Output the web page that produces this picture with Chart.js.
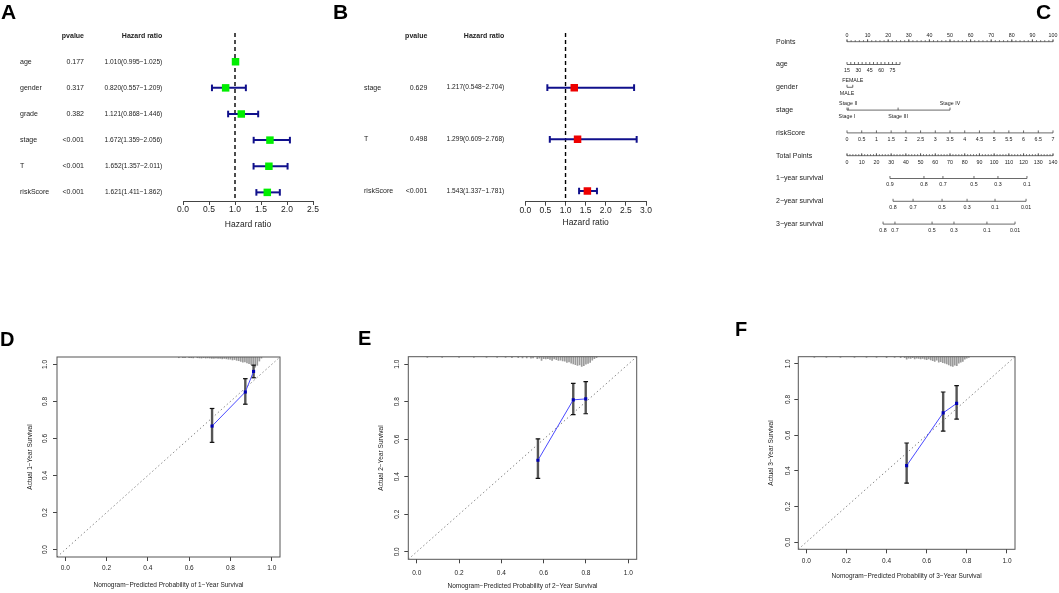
<!DOCTYPE html>
<html>
<head>
<meta charset="utf-8">
<title>Prognostic model panels</title>
<script src="https://cdn.jsdelivr.net/npm/chart.js@4.4.1/dist/chart.umd.min.js"></script>
<style>
  body { margin: 0; background: #fff; width: 1059px; height: 593px; overflow: hidden; position: relative;
         font-family: "Liberation Sans", Arial, Helvetica, sans-serif; }
  .panel { position: absolute; }
  .tag { position: absolute; font-weight: bold; font-size: 21px; line-height: 1; color: #000; z-index: 2; }
</style>
</head>
<body>
<div class="tag" style="left:1px;top:1px">A</div>
<div class="tag" style="left:333px;top:1px">B</div>
<div class="tag" style="left:1036px;top:1px">C</div>
<div class="tag" style="left:0px;top:329px;font-size:20px">D</div>
<div class="tag" style="left:358px;top:328px;font-size:20px">E</div>
<div class="tag" style="left:735px;top:319px;font-size:20px">F</div>

<div class="panel" style="left:0;top:0"><canvas id="forestA" width="335" height="240"></canvas></div>
<div class="panel" style="left:335px;top:0"><canvas id="forestB" width="330" height="240"></canvas></div>
<div class="panel" style="left:760px;top:20px"><canvas id="nomo" width="299" height="220"></canvas></div>
<div class="panel" style="left:0;top:300px"><canvas id="calD" width="340" height="293"></canvas></div>
<div class="panel" style="left:340px;top:300px"><canvas id="calE" width="350" height="293"></canvas></div>
<div class="panel" style="left:700px;top:300px"><canvas id="calF" width="359" height="293"></canvas></div>

<script>
// ================= DATA =================
// --- A: univariate Cox ---
const varsA  = ['age', 'gender', 'grade', 'stage', 'T', 'riskScore'];
const pvalA  = ['0.177', '0.317', '0.382', '<0.001', '<0.001', '<0.001'];
const hrA    = [1.010, 0.820, 1.121, 1.672, 1.652, 1.621];
const lowA   = [0.995, 0.557, 0.868, 1.359, 1.357, 1.411];
const highA  = [1.025, 1.209, 1.446, 2.056, 2.011, 1.862];
const ticksA = [0, 0.5, 1, 1.5, 2, 2.5];

// --- B: multivariate Cox ---
const varsB  = ['stage', 'T', 'riskScore'];
const pvalB  = ['0.629', '0.498', '<0.001'];
const hrB    = [1.217, 1.299, 1.543];
const lowB   = [0.548, 0.609, 1.337];
const highB  = [2.704, 2.768, 1.781];
const ticksB = [0, 0.5, 1, 1.5, 2, 2.5, 3];

// --- C: nomogram ---
const pointsTicks  = [0, 10, 20, 30, 40, 50, 60, 70, 80, 90, 100];
const ageTicks     = [15, 20, 25, 30, 35, 40, 45, 50, 55, 60, 65, 70, 75, 80, 85];
const ageLabels    = [15, 30, 45, 60, 75];
const AGE_AT_100   = 287;          // age that would score 100 points
const genderLevels = ['FEMALE', 'MALE'];
const genderPts    = [2.8, 0];
const genderSides  = [-1, 1];
const stageLevels  = ['Stage I', 'Stage II', 'Stage III', 'Stage IV'];
const stagePts     = [0, 0.6, 24.8, 50];
const stageSides   = [1, -1, 1, -1];
const riskTicks    = [0, 0.5, 1, 1.5, 2, 2.5, 3, 3.5, 4, 4.5, 5, 5.5, 6, 6.5, 7];
const totalTicks   = [0, 10, 20, 30, 40, 50, 60, 70, 80, 90, 100, 110, 120, 130, 140];
const surv1Labels  = ['0.9', '0.8', '0.7', '0.5', '0.3', '0.1'];
const surv1Tot     = [29.2, 52.3, 65.2, 86.3, 102.6, 122.3];
const surv2Labels  = ['0.8', '0.7', '0.5', '0.3', '0.1', '0.01'];
const surv2Tot     = [31.3, 44.9, 64.6, 81.6, 100.6, 121.7];
const surv3Labels  = ['0.8', '0.7', '0.5', '0.3', '0.1', '0.01'];
const surv3Tot     = [24.5, 32.6, 57.8, 72.7, 95.1, 114.2];

// --- D/E/F: calibration ---
const calTicks = [0, 0.2, 0.4, 0.6, 0.8, 1.0];
const CAL_LO = -0.04, CAL_HI = 1.04;

const predD = [0.711, 0.872, 0.912];
const obsD  = [0.667, 0.851, 0.962];
const loD   = [0.579, 0.785, 0.928];
const hiD   = [0.762, 0.923, 0.996];
const spikeXD = [0.55, 0.57, 0.58, 0.60, 0.61, 0.62, 0.64, 0.65, 0.66, 0.67, 0.68, 0.69, 0.70,
                 0.71, 0.72, 0.73, 0.74, 0.75, 0.76, 0.77, 0.78, 0.79, 0.80, 0.81, 0.82, 0.83,
                 0.84, 0.85, 0.86, 0.87, 0.88, 0.89, 0.90, 0.91, 0.92, 0.93, 0.94, 0.95];
const spikeHD = [0.004, 0.004, 0.004, 0.004, 0.004, 0.005, 0.004, 0.005, 0.006, 0.004, 0.006, 0.005, 0.006,
                 0.007, 0.008, 0.006, 0.008, 0.007, 0.010, 0.008, 0.010, 0.012, 0.012, 0.016, 0.014, 0.018,
                 0.020, 0.024, 0.028, 0.026, 0.032, 0.036, 0.040, 0.048, 0.055, 0.045, 0.022, 0.006];

const predE = [0.573, 0.740, 0.799];
const obsE  = [0.488, 0.810, 0.815];
const loE   = [0.391, 0.731, 0.736];
const hiE   = [0.602, 0.898, 0.907];
const spikeXE = [0.05, 0.12, 0.20, 0.27, 0.33, 0.38, 0.42, 0.45, 0.48, 0.50, 0.52, 0.54, 0.55, 0.57,
                 0.58, 0.59, 0.60, 0.61, 0.62, 0.63, 0.64, 0.65, 0.66, 0.67, 0.68, 0.69, 0.70, 0.71,
                 0.72, 0.73, 0.74, 0.75, 0.76, 0.77, 0.78, 0.79, 0.80, 0.81, 0.82, 0.83, 0.84, 0.85];
const spikeHE = [0.004, 0.004, 0.004, 0.004, 0.004, 0.004, 0.004, 0.005, 0.005, 0.006, 0.006, 0.008, 0.006, 0.010,
                 0.008, 0.020, 0.010, 0.012, 0.010, 0.014, 0.020, 0.012, 0.016, 0.020, 0.018, 0.022, 0.024, 0.030,
                 0.028, 0.034, 0.038, 0.042, 0.046, 0.044, 0.052, 0.048, 0.040, 0.036, 0.030, 0.018, 0.010, 0.005];

const predF = [0.500, 0.682, 0.749];
const obsF  = [0.429, 0.725, 0.778];
const loF   = [0.331, 0.623, 0.690];
const hiF   = [0.556, 0.842, 0.878];
const spikeXF = [0.04, 0.10, 0.17, 0.24, 0.30, 0.35, 0.40, 0.44, 0.47, 0.49, 0.50, 0.51, 0.52, 0.53,
                 0.54, 0.55, 0.56, 0.57, 0.58, 0.59, 0.60, 0.61, 0.62, 0.63, 0.64, 0.65, 0.66, 0.67,
                 0.68, 0.69, 0.70, 0.71, 0.72, 0.73, 0.74, 0.75, 0.76, 0.77, 0.78, 0.79, 0.80, 0.81];
const spikeHF = [0.004, 0.004, 0.004, 0.004, 0.004, 0.004, 0.005, 0.004, 0.006, 0.006, 0.014, 0.008, 0.010, 0.006,
                 0.012, 0.008, 0.010, 0.012, 0.010, 0.014, 0.016, 0.012, 0.018, 0.022, 0.026, 0.020, 0.030, 0.028,
                 0.034, 0.036, 0.040, 0.046, 0.052, 0.055, 0.048, 0.050, 0.036, 0.030, 0.026, 0.014, 0.008, 0.004];

// ================= DEFAULTS =================
const FONT = '"Liberation Sans", Arial, Helvetica, sans-serif';
Chart.defaults.font.family = FONT;
Chart.defaults.color = '#222';
Chart.defaults.animation = false;
Chart.defaults.events = [];
Chart.defaults.plugins.legend.display = false;
Chart.defaults.plugins.tooltip.enabled = false;

const BAR_BLUE = '#10108c';

function hrText(h, l, u) {
    return `${h.toFixed(3)}(${l.toFixed(3)}\u2212${u.toFixed(3)})`;
}

// ================= FOREST PLOTS =================
function forestTable(t) {
    return {
        id: 'forestTable',
        afterDraw(chart) {
            const ctx = chart.ctx;
            const y = chart.scales.y;
            const hy = y.getPixelForValue(-1);   // header row
            ctx.save();
            ctx.fillStyle = '#222';
            ctx.textBaseline = 'middle';
            ctx.font = `bold 7px ${FONT}`;
            ctx.textAlign = 'right';
            ctx.fillText('pvalue', t.pX, hy);
            ctx.fillText('Hazard ratio', t.hrX, hy);
            t.vars.forEach((v, i) => {
                const py = y.getPixelForValue(i);
                ctx.font = `7px ${FONT}`;
                ctx.textAlign = 'left';
                ctx.fillText(v, t.labelX, py);
                ctx.textAlign = 'right';
                ctx.fillText(t.pval[i], t.pX, py);
                ctx.font = `6.6px ${FONT}`;
                ctx.fillText(hrText(t.hr[i], t.low[i], t.high[i]), t.hrX, py);
            });
            ctx.restore();
        }
    };
}

function forestChart(id, t) {
    const datasets = [{
        type: 'scatter',
        data: t.hr.map((h, i) => ({ x: h, y: i })),
        pointStyle: 'rect', pointRadius: 5.3, pointBorderWidth: 0,
        backgroundColor: t.color, order: 0
    }];
    t.vars.forEach((v, i) => {
        datasets.push({
            type: 'line',
            data: [{ x: t.low[i], y: i }, { x: t.high[i], y: i }],
            borderColor: BAR_BLUE, borderWidth: 2,
            pointStyle: 'line', pointRotation: 90, pointRadius: 3.3,
            pointBorderColor: BAR_BLUE, pointBorderWidth: 2, order: 1
        });
    });
    // reference line at HR = 1
    datasets.push({
        type: 'line',
        data: [{ x: 1, y: t.yMin }, { x: 1, y: t.yMax }],
        borderColor: '#000', borderWidth: 1.4, borderDash: [4, 3], pointRadius: 0, order: 2
    });

    return new Chart(document.getElementById(id), {
        type: 'scatter',
        data: { datasets },
        options: {
            responsive: false,
            layout: { padding: t.padding },
            scales: {
                x: {
                    type: 'linear', min: t.ticks[0], max: t.ticks[t.ticks.length - 1],
                    afterBuildTicks: s => { s.ticks = t.ticks.map(v => ({ value: v })); },
                    afterFit: s => { s.height = t.axisH; },
                    grid: { drawOnChartArea: false, drawTicks: true, tickLength: 4, color: '#444' },
                    border: { display: true, color: '#444', width: 1 },
                    ticks: { padding: 0, autoSkip: false, maxRotation: 0, font: { size: 8.5 }, color: '#222',
                             callback: v => v.toFixed(1) },
                    title: { display: true, text: 'Hazard ratio', font: { size: 8.5 }, color: '#222',
                             padding: { top: 0, bottom: 0 } }
                },
                y: { type: 'linear', reverse: true, min: t.yMin, max: t.yMax, display: false }
            }
        },
        plugins: [forestTable(t)]
    });
}

forestChart('forestA', {
    vars: varsA, pval: pvalA, hr: hrA, low: lowA, high: highA, ticks: ticksA,
    color: '#00ee00', yMin: -1.1, yMax: 5.33, axisH: 29,
    padding: { left: 183, right: 22, top: 33, bottom: 10 },
    labelX: 20, pX: 84, hrX: 162.3
});

forestChart('forestB', {
    vars: varsB, pval: pvalB, hr: hrB, low: lowB, high: highB, ticks: ticksB,
    color: '#ee0000', yMin: -1.058, yMax: 2.207, axisH: 26.1,
    padding: { left: 190.3, right: 19, top: 33, bottom: 12.2 },
    labelX: 29, pX: 92.3, hrX: 169.3
});

// ================= NOMOGRAM =================
const nomoRows = [
    { name: 'Points', scale: 'x', ticks: pointsTicks, labels: pointsTicks, minorStep: 2, side: -1 },
    { name: 'age', scale: 'xAge', ticks: ageTicks, labels: ageLabels, labelAt: ageLabels, side: 1 },
    { name: 'gender', scale: 'x', ticks: genderPts, labels: genderLevels, sides: genderSides },
    { name: 'stage', scale: 'x', ticks: stagePts, labels: stageLevels, sides: stageSides },
    { name: 'riskScore', scale: 'xRisk', ticks: riskTicks, labels: riskTicks, side: 1 },
    { name: 'Total Points', scale: 'xTot', ticks: totalTicks, labels: totalTicks, minorStep: 2, side: 1 },
    { name: '1\u2212year survival', scale: 'xTot', ticks: surv1Tot, labels: surv1Labels, side: 1 },
    { name: '2\u2212year survival', scale: 'xTot', ticks: surv2Tot, labels: surv2Labels, side: 1 },
    { name: '3\u2212year survival', scale: 'xTot', ticks: surv3Tot, labels: surv3Labels, side: 1 }
];

function nomogramPlugin(rows) {
    return {
        id: 'nomogram',
        afterDraw(chart) {
            const ctx = chart.ctx;
            const y = chart.scales.y;
            ctx.save();
            ctx.strokeStyle = '#444';
            ctx.fillStyle = '#222';
            ctx.lineWidth = 0.8;
            ctx.textBaseline = 'middle';
            rows.forEach((r, i) => {
                const sc = chart.scales[r.scale];
                const py = y.getPixelForValue(i);
                const lo = Math.min(...r.ticks), hi = Math.max(...r.ticks);
                ctx.beginPath();
                ctx.moveTo(sc.getPixelForValue(lo), py);
                ctx.lineTo(sc.getPixelForValue(hi), py);
                if (r.minorStep) {
                    for (let v = lo; v <= hi + 1e-9; v += r.minorStep) {
                        const px = sc.getPixelForValue(v);
                        ctx.moveTo(px, py); ctx.lineTo(px, py - 1.5);
                    }
                }
                r.ticks.forEach(v => {
                    const px = sc.getPixelForValue(v);
                    ctx.moveTo(px, py); ctx.lineTo(px, py - 2.5);
                });
                ctx.stroke();

                ctx.font = `5.3px ${FONT}`;
                ctx.textAlign = 'center';
                r.labels.forEach((lab, j) => {
                    const v = r.labelAt ? r.labelAt[j] : r.ticks[j];
                    const side = r.sides ? r.sides[j] : r.side;
                    ctx.fillText(String(lab), sc.getPixelForValue(v), py + side * 6.5);
                });
                ctx.font = `7px ${FONT}`;
                ctx.textAlign = 'left';
                ctx.fillText(r.name, 16, py);
            });
            ctx.restore();
        }
    };
}

new Chart(document.getElementById('nomo'), {
    type: 'scatter',
    data: { datasets: [] },
    options: {
        responsive: false,
        layout: { padding: { left: 87, right: 6, top: 10.3, bottom: 4.5 } },
        scales: {
            x:     { type: 'linear', axis: 'x', position: 'bottom', min: 0, max: 100, display: false },
            xAge:  { type: 'linear', axis: 'x', position: 'bottom', min: 15, max: AGE_AT_100, display: false },
            xRisk: { type: 'linear', axis: 'x', position: 'bottom', min: 0, max: 7, display: false },
            xTot:  { type: 'linear', axis: 'x', position: 'bottom', min: 0, max: 140, display: false },
            y:     { type: 'linear', reverse: true, min: -0.5, max: 8.5, display: false }
        }
    },
    plugins: [nomogramPlugin(nomoRows)]
});

// ================= CALIBRATION =================
const framePlugin = {
    id: 'frame',
    afterDatasetsDraw(chart) {
        const { ctx, chartArea: a } = chart;
        ctx.save();
        ctx.strokeStyle = '#555';
        ctx.lineWidth = 1;
        ctx.strokeRect(a.left, a.top, a.right - a.left, a.bottom - a.top);
        ctx.restore();
    }
};

function calChart(id, c) {
    const datasets = [
        {
            type: 'scatter', data: c.pred.map((p, i) => ({ x: p, y: c.obs[i] })),
            pointStyle: 'rect', pointRadius: 2.2, pointBorderWidth: 0, backgroundColor: '#0000b4', order: 0
        },
        {
            type: 'line', data: c.pred.map((p, i) => ({ x: p, y: c.obs[i] })),
            borderColor: '#4a4aff', borderWidth: 1, pointRadius: 0, order: 1
        }
    ];
    c.pred.forEach((p, i) => {
        datasets.push({
            type: 'line', data: [{ x: p, y: c.lo[i] }, { x: p, y: c.hi[i] }],
            borderColor: '#555', borderWidth: 2.4,
            pointStyle: 'line', pointRadius: 2.3, pointBorderColor: '#111', pointBorderWidth: 1.2, order: 2
        });
    });
    datasets.push({
        type: 'line', data: [{ x: CAL_LO, y: CAL_LO }, { x: CAL_HI, y: CAL_HI }],
        borderColor: '#888', borderWidth: 1, borderDash: [1.5, 2.5], pointRadius: 0, order: 3
    });
    datasets.push({
        type: 'bar', data: c.spikeX.map((x, i) => ({ x, y: [CAL_HI - c.spikeH[i], CAL_HI] })),
        backgroundColor: '#9a9a9a', borderWidth: 0, barThickness: 1, grouped: false, order: 4
    });

    return new Chart(document.getElementById(id), {
        type: 'scatter',
        data: { datasets },
        options: {
            responsive: false,
            layout: { padding: c.padding },
            scales: {
                x: {
                    type: 'linear', min: CAL_LO, max: CAL_HI, offset: false,
                    afterBuildTicks: s => { s.ticks = calTicks.map(v => ({ value: v })); },
                    afterFit: s => { s.height = c.xAxisH; },
                    grid: { offset: false, drawOnChartArea: false, tickLength: 4, color: '#444' },
                    border: { display: false },
                    ticks: { padding: c.xTickPad, autoSkip: false, maxRotation: 0, font: { size: 6.5 }, color: '#222',
                             callback: v => v.toFixed(1) },
                    title: { display: true, text: c.xTitle, font: { size: 6.5 }, color: '#222',
                             padding: { top: 0, bottom: 0 } }
                },
                y: {
                    type: 'linear', min: CAL_LO, max: CAL_HI, beginAtZero: false,
                    afterBuildTicks: s => { s.ticks = calTicks.map(v => ({ value: v })); },
                    afterFit: s => { s.width = c.yAxisW; },
                    grid: { drawOnChartArea: false, tickLength: 4, color: '#444' },
                    border: { display: false },
                    ticks: { minRotation: 90, maxRotation: 90, crossAlign: 'center', padding: c.yTickPad,
                             autoSkip: false, font: { size: 6.5 }, color: '#222', callback: v => v.toFixed(1) },
                    title: { display: true, text: c.yTitle, font: { size: 6.5 }, color: '#222',
                             padding: { top: 0, bottom: 0 } }
                }
            }
        },
        plugins: [framePlugin]
    });
}

calChart('calD', {
    pred: predD, obs: obsD, lo: loD, hi: hiD, spikeX: spikeXD, spikeH: spikeHD,
    xTitle: 'Nomogram\u2212Predicted Probability of 1\u2212Year Survival',
    yTitle: 'Actual 1\u2212Year Survival',
    padding: { left: 26.1, right: 60, top: 57, bottom: 4.1 },
    xAxisH: 31.9, yAxisW: 30.9, xTickPad: 3.7, yTickPad: 3.5
});

calChart('calE', {
    pred: predE, obs: obsE, lo: loE, hi: hiE, spikeX: spikeXE, spikeH: spikeHE,
    xTitle: 'Nomogram\u2212Predicted Probability of 2\u2212Year Survival',
    yTitle: 'Actual 2\u2212Year Survival',
    padding: { left: 37.8, right: 53.3, top: 56.7, bottom: 2.4 },
    xAxisH: 31.3, yAxisW: 30.5, xTickPad: 5.8, yTickPad: 2.5
});

calChart('calF', {
    pred: predF, obs: obsF, lo: loF, hi: hiF, spikeX: spikeXF, spikeH: spikeHF,
    xTitle: 'Nomogram\u2212Predicted Probability of 3\u2212Year Survival',
    yTitle: 'Actual 3\u2212Year Survival',
    padding: { left: 67.8, right: 44, top: 56.7, bottom: 13.1 },
    xAxisH: 30.6, yAxisW: 30.5, xTickPad: 3.8, yTickPad: 1.5
});
</script>
</body>
</html>
